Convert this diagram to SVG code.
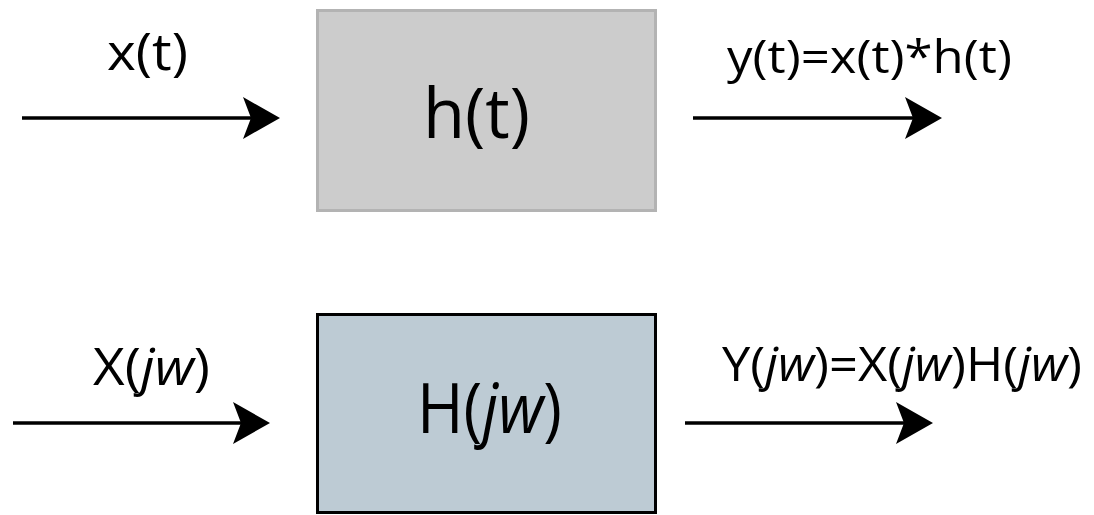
<svg xmlns="http://www.w3.org/2000/svg" width="1094" height="515" viewBox="0 0 1094 515">
  <style>
    .lbl { font-family: "Open Sans", "DejaVu Sans", sans-serif; fill: #000; }
    .conn { stroke: #000; stroke-width: 3.5; fill: none; }
    .head { fill: #000; stroke: none; }
  </style>
  <defs>
    <path id="ah" class="head" d="M0,0 L-37,-21 L-29,0 L-37,21 Z"/>
  </defs>
  <rect width="1094" height="515" fill="#ffffff"/>

  <g id="connectors">
    <line class="conn" x1="22" y1="118" x2="262" y2="118"/>
    <use href="#ah" x="280" y="118"/>
    <line class="conn" x1="693" y1="118" x2="924" y2="118"/>
    <use href="#ah" x="942" y="118"/>
    <line class="conn" x1="13" y1="423" x2="252" y2="423"/>
    <use href="#ah" x="270" y="423"/>
    <line class="conn" x1="685" y1="423" x2="915" y2="423"/>
    <use href="#ah" x="933" y="423"/>
  </g>

  <g id="label-x">
    <text class="lbl" x="107" y="70" font-size="52" textLength="81" lengthAdjust="spacingAndGlyphs">x(t)</text>
  </g>
  <g id="node-h">
    <rect x="317.5" y="10.5" width="338" height="200" fill="#cccccc" stroke="#b3b3b3" stroke-width="3"/>
    <text class="lbl" x="423" y="138" font-size="70" textLength="107" lengthAdjust="spacingAndGlyphs">h(t)</text>
  </g>
  <g id="label-y">
    <text class="lbl" x="727" y="73" font-size="46" textLength="285" lengthAdjust="spacingAndGlyphs">y(t)=x(t)*h(t)</text>
  </g>

  <g id="label-X">
    <text class="lbl" x="93" y="385" font-size="52" textLength="117" lengthAdjust="spacingAndGlyphs">X(<tspan font-style="italic">jw</tspan>)</text>
  </g>
  <g id="node-H">
    <rect x="317.5" y="314.5" width="338" height="198" fill="#bdcbd4" stroke="#000000" stroke-width="3"/>
    <text class="lbl" x="417" y="433" font-size="70" textLength="145" lengthAdjust="spacingAndGlyphs">H(<tspan font-style="italic">jw</tspan>)</text>
  </g>
  <g id="label-Y">
    <text class="lbl" x="722" y="381" font-size="48" textLength="360" lengthAdjust="spacingAndGlyphs">Y(<tspan font-style="italic">jw</tspan>)=X(<tspan font-style="italic">jw</tspan>)H(<tspan font-style="italic">jw</tspan>)</text>
  </g>
</svg>
